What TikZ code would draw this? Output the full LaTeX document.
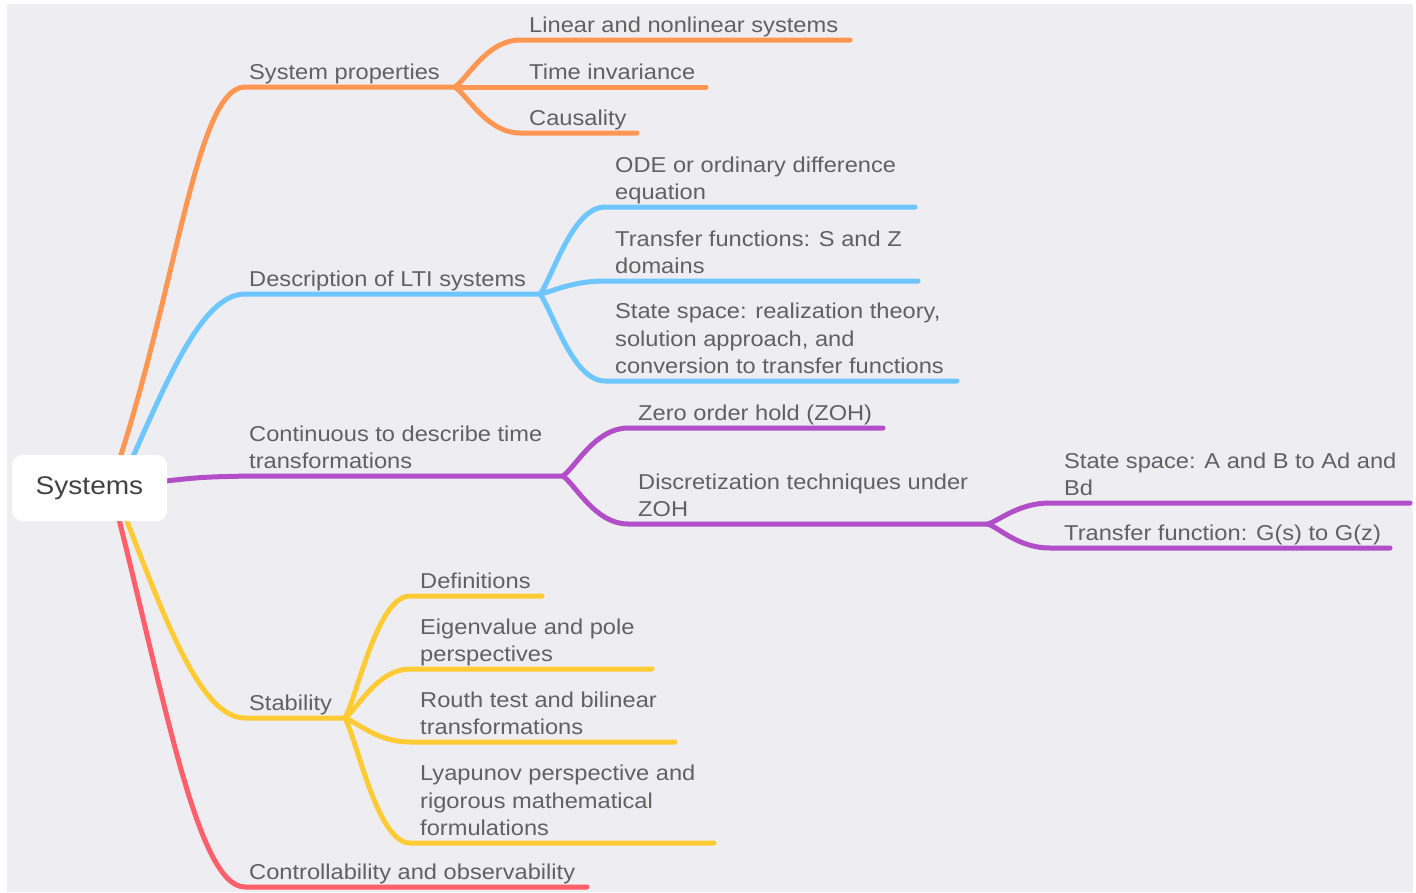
\documentclass[tikz,border=0pt]{standalone}
\usepackage{fontspec}
\setmainfont{Liberation Sans}[FakeStretch=1.10]
\usetikzlibrary{calc}
\definecolor{bg}{HTML}{EEEDF2}
\definecolor{txt}{HTML}{616161}
\definecolor{rootc}{HTML}{424242}
\definecolor{cOr}{HTML}{FF9652}
\definecolor{cBl}{HTML}{6DC6FF}
\definecolor{cPu}{HTML}{B24FC8}
\definecolor{cYe}{HTML}{FFCB35}
\definecolor{cRe}{HTML}{FF5E6B}
\newcommand\mmkid[4]{%
  \draw[br,#1] let \p1=(#2), \p2=(#3) in
    (#2) .. controls (0.8*\x1+0.2*\x2, 0.8*\y1+0.2*\y2) and (0.5*\x1+0.5*\x2, \y2) .. (#3) -- (#4);}
\begin{document}
\begin{tikzpicture}[x=1pt,y=-1pt,
  br/.style={line width=5pt, line cap=round, line join=round},
  lbl/.style={anchor=south west, inner sep=0pt, align=left, text=txt,
    font=\fontsize{21.5}{27.5}\selectfont,
    execute at end node={\rule[-6pt]{0pt}{6pt}}},
  rootbox/.style={fill=white, rounded corners=10pt, minimum width=155pt,
    minimum height=66pt, inner sep=0pt, text=rootc,
    font=\fontsize{25.5}{30}\selectfont}]
\useasboundingbox (0,0) rectangle (1416,892);
\fill[white] (0,0) rectangle (1416,892);
\fill[bg] (7,4) rectangle (1413,892);

% coordinates
\coordinate (spS) at (110,488); \coordinate (spH) at (245,87); \coordinate (spF) at (455,87);
\coordinate (c11s) at (520,40); \coordinate (c11e) at (850,40);
\coordinate (c12e) at (706,87);
\coordinate (c13s) at (520,133); \coordinate (c13e) at (637,133);
\coordinate (dlS) at (119,488); \coordinate (dlH) at (245,294); \coordinate (dlF) at (540,294);
\coordinate (c21s) at (605,207); \coordinate (c21e) at (915,207);
\coordinate (c22s) at (605,281); \coordinate (c22e) at (918,281);
\coordinate (c23s) at (605,381); \coordinate (c23e) at (957,381);
\coordinate (ctS) at (140,484); \coordinate (ctC) at (250,476); \coordinate (ctF) at (563,476);
\coordinate (c31s) at (628,428); \coordinate (c31e) at (883,428);
\coordinate (c32s) at (628,524); \coordinate (c32F) at (988,524);
\coordinate (c41s) at (1050,503); \coordinate (c41e) at (1410,503);
\coordinate (c42s) at (1050,548); \coordinate (c42e) at (1390,548);
\coordinate (stS) at (114,488); \coordinate (stH) at (245,718); \coordinate (stF) at (345,718);
\coordinate (c51s) at (410,596); \coordinate (c51e) at (542,596);
\coordinate (c52s) at (410,669); \coordinate (c52e) at (652,669);
\coordinate (c53s) at (410,742); \coordinate (c53e) at (675,742);
\coordinate (c54s) at (410,843); \coordinate (c54e) at (714,843);
\coordinate (coS) at (111,488); \coordinate (coH) at (245,887); \coordinate (coE) at (587,887);

% main branches
\draw[br,cOr] (spS) .. controls (176,298) and (195,87) .. (spH) -- (spF);
\draw[br,cBl] (dlS) .. controls (164,388) and (200,294) .. (dlH) -- (dlF);
\draw[br,cPu] (ctS) .. controls (200,477) .. (ctC) -- (ctF);
\draw[br,cYe] (stS) .. controls (158,598) and (196,718) .. (stH) -- (stF);
\draw[br,cRe] (coS) .. controls (163,688) and (196,887) .. (coH) -- (coE);

% sub branches
\mmkid{cOr}{spF}{c11s}{c11e}
\draw[br,cOr] (spF) -- (c12e);
\mmkid{cOr}{spF}{c13s}{c13e}
\mmkid{cBl}{dlF}{c21s}{c21e}
\mmkid{cBl}{dlF}{c22s}{c22e}
\mmkid{cBl}{dlF}{c23s}{c23e}
\mmkid{cPu}{ctF}{c31s}{c31e}
\mmkid{cPu}{ctF}{c32s}{c32F}
\mmkid{cPu}{c32F}{c41s}{c41e}
\mmkid{cPu}{c32F}{c42s}{c42e}
\mmkid{cYe}{stF}{c51s}{c51e}
\mmkid{cYe}{stF}{c52s}{c52e}
\mmkid{cYe}{stF}{c53s}{c53e}
\mmkid{cYe}{stF}{c54s}{c54e}

% root
\node[rootbox] (root) at (89.5,488) {\raisebox{-2pt}{Systems}};

% labels
\node[lbl] (tsp) at (249,86) {System properties};
\node[lbl] (t11) at (529,39) {Linear and nonlinear systems};
\node[lbl] (t12) at (529,86) {Time invariance};
\node[lbl] (t13) at (529,132) {Causality};
\node[lbl] (tdl) at (249,293) {Description of LTI systems};
\node[lbl] (t21) at (615,206) {ODE or ordinary difference\\equation};
\node[lbl] (t22) at (615,280) {Transfer functions: S and Z\\domains};
\node[lbl] (t23) at (615,380) {State space: realization theory,\\solution approach, and\\conversion to transfer functions};
\node[lbl] (tct) at (249,475) {Continuous to describe time\\transformations};
\node[lbl] (t31) at (638,427) {Zero order hold (ZOH)};
\node[lbl] (t32) at (638,523) {Discretization techniques under\\ZOH};
\node[lbl] (t41) at (1064,502) {State space: A and B to Ad and\\Bd};
\node[lbl] (t42) at (1064,547) {Transfer function: G(s) to G(z)};
\node[lbl] (tst) at (249,717) {Stability};
\node[lbl] (t51) at (420,595) {Definitions};
\node[lbl] (t52) at (420,668) {Eigenvalue and pole\\perspectives};
\node[lbl] (t53) at (420,741) {Routh test and bilinear\\transformations};
\node[lbl] (t54) at (420,842) {Lyapunov perspective and\\rigorous mathematical\\formulations};
\node[lbl] (tco) at (249,886) {Controllability and observability};
\end{tikzpicture}
\end{document}
